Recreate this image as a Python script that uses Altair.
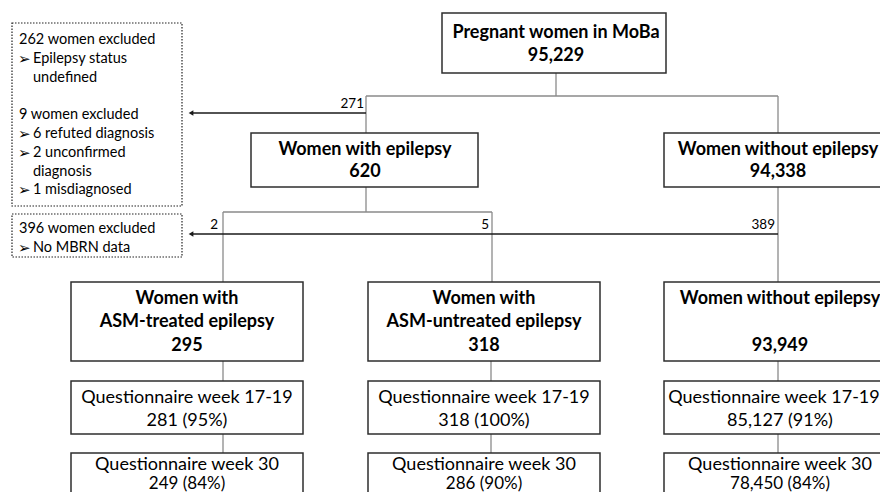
import altair as alt
import pandas as pd

cohort_label = "Pregnant women in MoBa"
cohort_n = 95229
group_labels = ["Women with epilepsy", "Women without epilepsy"]
group_n = [620, 94338]
subgroup_labels = [["Women with", "ASM-treated epilepsy"],
                   ["Women with", "ASM-untreated epilepsy"],
                   ["Women without epilepsy", ""]]
subgroup_n = [295, 318, 93949]
q1_label = "Questionnaire week 17-19"
q1_n = [281, 318, 85127]
q1_pct = [95, 100, 91]
q2_label = "Questionnaire week 30"
q2_n = [249, 286, 78450]
q2_pct = [84, 90, 84]
excl_step1 = [271]
excl_step2 = [2, 5, 389]
excl1_lines = ["262 women excluded", "Epilepsy status", "undefined", "",
               "9 women excluded", "6 refuted diagnosis", "2 unconfirmed",
               "diagnosis", "1 misdiagnosed"]
excl1_kind = ["head", "bullet", "cont", "", "head", "bullet", "bullet", "cont", "bullet"]
excl2_lines = ["396 women excluded", "No MBRN data"]
excl2_kind = ["head", "bullet"]
BULLET = "\u27a2"

# ---------------- layout (frame coordinates) ----------------
col_x = [187, 484, 780]          # centres of the three bottom columns
col_link = [223, 491, 778]       # vertical connectors of the columns
q1_text_x = [187, 484, 774]
FONT = "Lato"

boxes = []
texts = []
solid_rules = []
arrow_rules = []

# top box
boxes.append(dict(x1=442, x2=666, y1=13, y2=73, kind="solid"))
texts += [dict(x=556, y=33, t=cohort_label, s=18, b="bold", a="center"),
          dict(x=556, y=56, t=f"{cohort_n:,}", s=18, b="bold", a="center")]
# level-2 boxes
lvl2 = [dict(x1=251, x2=478, cx=365), dict(x1=664, x2=894, cx=778)]
for g, lab, n in zip(lvl2, group_labels, group_n):
    boxes.append(dict(x1=g["x1"], x2=g["x2"], y1=133, y2=187, kind="solid"))
    texts += [dict(x=g["cx"], y=150, t=lab, s=18, b="bold", a="center"),
              dict(x=g["cx"], y=172, t=f"{n:,}", s=18, b="bold", a="center")]
# level-3 boxes
for cx, labs, n in zip(col_x, subgroup_labels, subgroup_n):
    boxes.append(dict(x1=cx - 116, x2=cx + 116, y1=282, y2=361, kind="solid"))
    texts += [dict(x=cx, y=299, t=labs[0], s=18, b="bold", a="center"),
              dict(x=cx, y=322, t=labs[1], s=18, b="bold", a="center"),
              dict(x=cx, y=346, t=f"{n:,}", s=18, b="bold", a="center")]
# questionnaire boxes
for cx, qx, n1, p1, n2, p2 in zip(col_x, q1_text_x, q1_n, q1_pct, q2_n, q2_pct):
    boxes.append(dict(x1=cx - 116, x2=cx + 116, y1=381, y2=434, kind="solid"))
    boxes.append(dict(x1=cx - 116, x2=cx + 116, y1=453, y2=520, kind="solid"))
    texts += [dict(x=qx, y=398, t=q1_label, s=18, b="normal", a="center"),
              dict(x=cx, y=421, t=f"{n1:,} ({p1}%)", s=18, b="normal", a="center"),
              dict(x=cx, y=465, t=q2_label, s=18, b="normal", a="center"),
              dict(x=cx, y=484, t=f"{n2:,} ({p2}%)", s=17, b="normal", a="center")]
# exclusion boxes
boxes.append(dict(x1=12, x2=182, y1=23, y2=206, kind="dotted"))
boxes.append(dict(x1=12, x2=182, y1=214, y2=257, kind="dotted"))


def add_excl(lines, kinds, y0, dy):
    for i, (line, k) in enumerate(zip(lines, kinds)):
        y = y0 + dy * i
        if k == "head":
            texts.append(dict(x=19, y=y, t=line, s=14.5, b="normal", a="left"))
        elif k == "bullet":
            texts.append(dict(x=18, y=y, t=BULLET, s=15, b="normal", a="left"))
            texts.append(dict(x=33, y=y, t=line, s=14.5, b="normal", a="left"))
        elif k == "cont":
            texts.append(dict(x=33, y=y, t=line, s=14.5, b="normal", a="left"))


add_excl(excl1_lines, excl1_kind, 40, 18.8)
add_excl(excl2_lines, excl2_kind, 229, 18.5)
# exclusion counts
texts.append(dict(x=364, y=104, t=str(excl_step1[0]), s=13.5, b="normal", a="right"))
for xx, n in zip([218, 489, 775], excl_step2):
    texts.append(dict(x=xx, y=225, t=str(n), s=13.5, b="normal", a="right"))

# connectors
solid_rules += [
    dict(x=556, y=73, x2=556, y2=96),
    dict(x=366, y=96, x2=778, y2=96),
    dict(x=366, y=96, x2=366, y2=133),
    dict(x=778, y=96, x2=778, y2=133),
    dict(x=366, y=187, x2=366, y2=212),
    dict(x=223, y=212, x2=492, y2=212),
    dict(x=223, y=212, x2=223, y2=282),
    dict(x=492, y=212, x2=492, y2=282),
    dict(x=778, y=187, x2=778, y2=282),
]
for lx in col_link:
    solid_rules += [dict(x=lx, y=361, x2=lx, y2=381), dict(x=lx, y=434, x2=lx, y2=453)]
arrow_rules += [dict(x=192, y=113, x2=366, y2=113), dict(x=192, y=234, x2=778, y2=234)]
heads = pd.DataFrame([dict(x=191, y=113), dict(x=191, y=234)])

bx = pd.DataFrame(boxes)
tx = pd.DataFrame(texts)
sr = pd.DataFrame(solid_rules)
ar = pd.DataFrame(arrow_rules)

xs = alt.Scale(domain=[8, 880], nice=False, zero=False)
ys = alt.Scale(domain=[492, 8], nice=False, zero=False)
X = lambda f: alt.X(f, type="quantitative", scale=xs, axis=None)
Y = lambda f: alt.Y(f, type="quantitative", scale=ys, axis=None)

conn = alt.Chart(sr).mark_rule(color="#8a8a8a", strokeWidth=1.3, clip=True).encode(
    x=X("x"), y=Y("y"), x2="x2", y2="y2")
arr = alt.Chart(ar).mark_rule(color="#1a1a1a", strokeWidth=1.3, clip=True).encode(
    x=X("x"), y=Y("y"), x2="x2", y2="y2")
hd = alt.Chart(heads).mark_point(shape="triangle-left", filled=True, color="#1a1a1a",
                                 size=30, opacity=1).encode(x=X("x"), y=Y("y"))
solid = alt.Chart(bx[bx.kind == "solid"]).mark_rect(
    fill="white", stroke="#2e2e2e", strokeWidth=1.5, clip=True).encode(
    x=X("x1"), x2="x2", y=Y("y1"), y2="y2")
dotted = alt.Chart(bx[bx.kind == "dotted"]).mark_rect(
    fill="white", stroke="#222222", strokeWidth=1.2, strokeDash=[1.5, 1.5], clip=True).encode(
    x=X("x1"), x2="x2", y=Y("y1"), y2="y2")

txt_layers = []
for (b, a, s), sub in tx.groupby(["b", "a", "s"]):
    txt_layers.append(
        alt.Chart(sub).mark_text(font=FONT, fontSize=float(s), fontWeight=b, align=a,
                                 baseline="middle", color="black", clip=True).encode(
            x=X("x"), y=Y("y"), text="t:N"))

chart = alt.layer(conn, arr, hd, solid, dotted, *txt_layers).properties(
    width=872, height=484, padding=0, background="white",
    autosize=alt.AutoSizeParams(type="none")
).configure_view(stroke=None)

chart.save("out.html", embed_options={"renderer": "svg", "actions": False})
